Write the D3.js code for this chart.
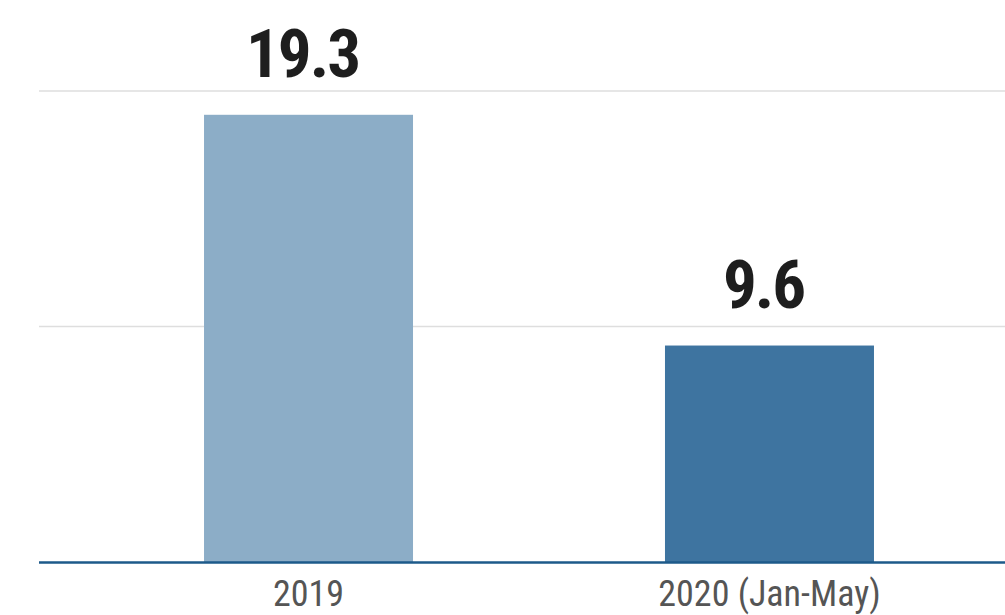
<!DOCTYPE html>
<html>
<head>
<meta charset="utf-8">
<script src="https://cdn.jsdelivr.net/npm/d3@7"></script>
<style>
  html, body { margin: 0; padding: 0; background: #fff; }
  svg { display: block; }
  .val { font-family: "Liberation Sans Narrow", "Arial Narrow", "Roboto Condensed", sans-serif; font-weight: bold; fill: #1e1e1e; }
  .cat { font-family: "Liberation Sans Narrow", "Arial Narrow", "Roboto Condensed", sans-serif; fill: #555; }
</style>
</head>
<body>
<script>
const categories = ["2019", "2020 (Jan-May)"];
const values = [19.3, 9.6];
const valueLabels = ["19.3", "9.6"];
const barColors = ["#8cadc7", "#3e74a0"];
const gridValues = [10.4, 20.3];

const W = 1005, H = 615;
const svg = d3.select("body").append("svg").attr("width", W).attr("height", H);

const x = d3.scaleBand().domain(categories).range([39, 1039])
  .paddingInner(0.5466).paddingOuter(0.358);
const y = d3.scaleLinear().domain([0.5, 20.3]).range([562, 91]);

// gridlines
svg.append("g").selectAll("line").data(gridValues).join("line")
  .attr("x1", 39).attr("x2", W)
  .attr("y1", d => y(d)).attr("y2", d => y(d))
  .attr("stroke", "#dedede").attr("stroke-width", 1.5);

// bars
svg.append("g").selectAll("rect").data(values).join("rect")
  .attr("x", (d, i) => x(categories[i]))
  .attr("width", x.bandwidth())
  .attr("y", d => y(d))
  .attr("height", d => y(0.5) - y(d))
  .attr("fill", (d, i) => barColors[i]);

// baseline axis
const xAxis = d3.axisBottom(x).tickSize(0).tickPadding(0);
const ax = svg.append("g").attr("transform", `translate(0,${y(0.5)})`).call(xAxis);
ax.select(".domain").remove();
ax.append("line").attr("x1", 39).attr("x2", W).attr("y1", 0.5).attr("y2", 0.5)
  .attr("stroke", "#1d5a8a").attr("stroke-width", 2.6);
ax.selectAll(".tick text")
  .attr("class", "cat")
  .attr("y", 44)
  .attr("dy", 0)
  .style("font-size", "36px")
  .attr("fill", "#555")
  .attr("font-family", null);

// value labels
svg.append("g").selectAll("text").data(values).join("text")
  .attr("class", "val")
  .attr("x", (d, i) => x(categories[i]) + x.bandwidth() / 2 - 6)
  .attr("y", d => y(d) - 38)
  .attr("text-anchor", "middle")
  .style("font-size", "67px")
  .style("letter-spacing", "-2px")
  .text((d, i) => valueLabels[i]);
</script>
</body>
</html>
